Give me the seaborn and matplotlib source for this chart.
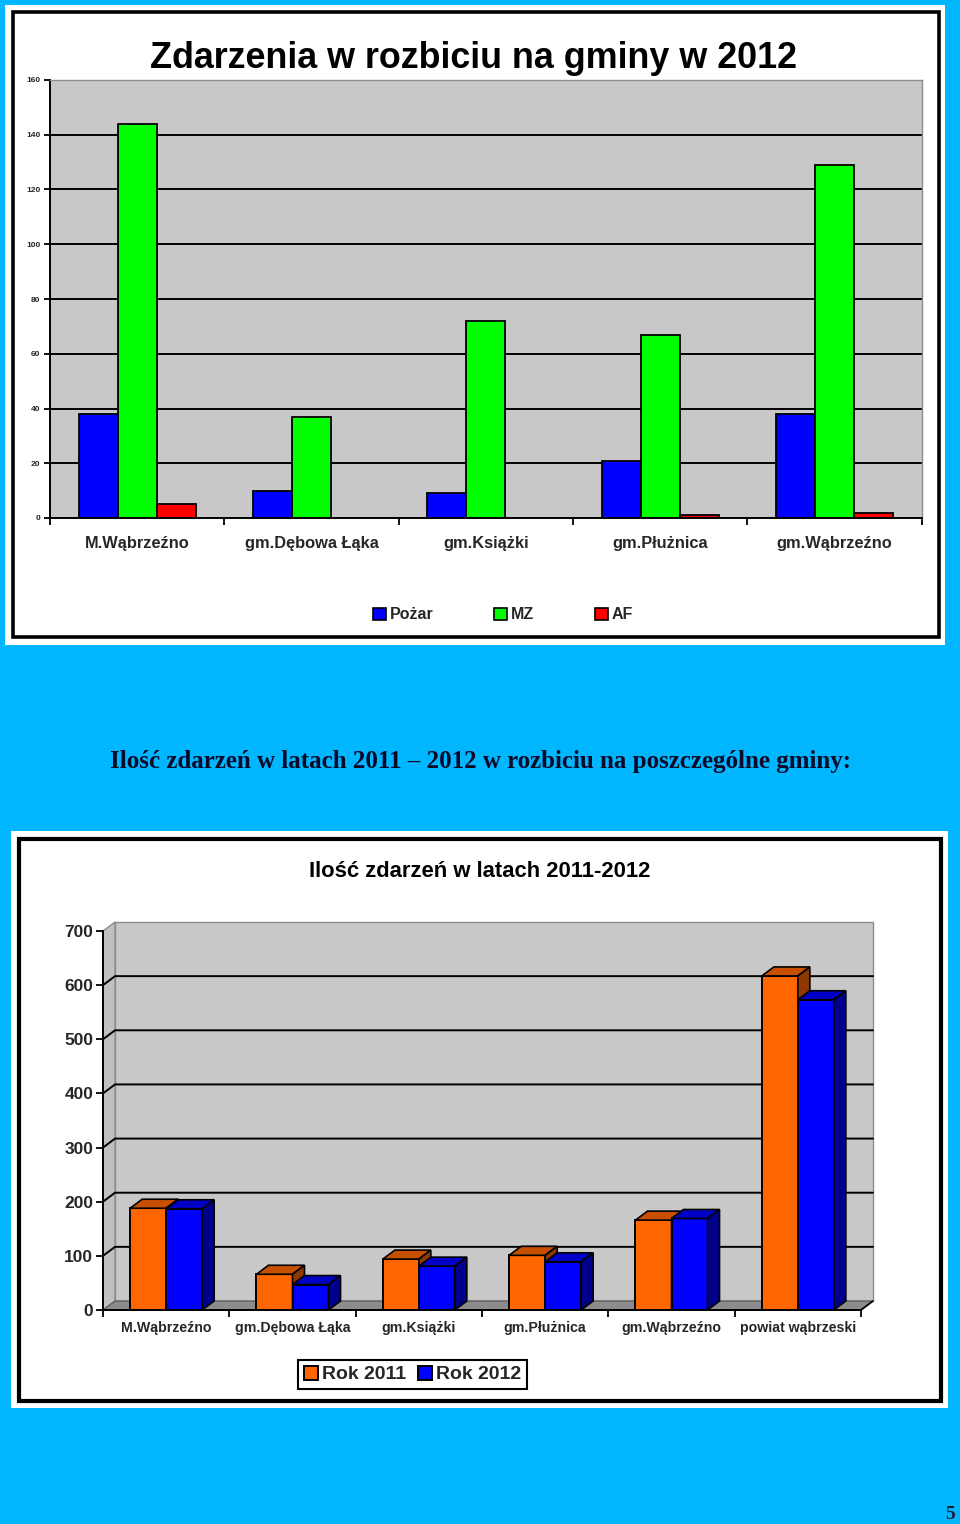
import matplotlib
matplotlib.use("Agg")
import matplotlib.pyplot as plt
import seaborn as sns
import pandas as pd
import numpy as np
from matplotlib.patches import Rectangle, Polygon
from matplotlib.lines import Line2D

# ---------------- data ----------------
gminy_top = ["M.Wąbrzeźno", "gm.Dębowa Łąka", "gm.Książki", "gm.Płużnica", "gm.Wąbrzeźno"]
pozar = [38, 10, 9, 21, 38]
mz = [144, 37, 72, 67, 129]
af = [5, 0, 0, 1, 2]
series_top = ["Pożar", "MZ", "AF"]

gminy_bot = ["M.Wąbrzeźno", "gm.Dębowa Łąka", "gm.Książki", "gm.Płużnica", "gm.Wąbrzeźno", "powiat wąbrzeski"]
rok_2011 = [188, 66, 94, 101, 166, 617]
rok_2012 = [187, 47, 81, 89, 169, 573]
series_bot = ["Rok 2011", "Rok 2012"]

title_top = "Zdarzenia w rozbiciu na gminy w 2012"
title_mid = "Ilość zdarzeń w latach 2011 – 2012 w rozbiciu na poszczególne gminy:"
title_bot = "Ilość zdarzeń w latach 2011-2012"

# ---------------- setup ----------------
W, H = 960, 1524
sns.set_theme(style="white")
plt.rcParams["font.family"] = ["Liberation Sans", "DejaVu Sans"]
plt.rcParams["font.weight"] = "bold"

BG = "#00B6FF"
fig = plt.figure(figsize=(W / 100, H / 100), dpi=100)
fig.patch.set_facecolor(BG)


def fx(x):
    return x / W


def fy(y):
    return 1 - y / H


def frame_rect(x0, y0, x1, y1, **kw):
    fig.add_artist(Rectangle((fx(x0), fy(y1)), fx(x1) - fx(x0), fy(y0) - fy(y1),
                             transform=fig.transFigure, **kw))


# panels
frame_rect(5, 5, 945, 645, facecolor="white", edgecolor="none", zorder=0)
frame_rect(12.5, 12, 938.5, 637.5, facecolor="none", edgecolor="black", linewidth=2.6, zorder=0.5)
frame_rect(11, 831, 948, 1408, facecolor="white", edgecolor="none", zorder=0)
frame_rect(19, 839, 940.5, 1400.5, facecolor="none", edgecolor="black", linewidth=3, zorder=0.5)

# ---------------- top chart ----------------
df1 = pd.DataFrame({
    "gmina": gminy_top * 3,
    "seria": [s for s in series_top for _ in gminy_top],
    "wartosc": pozar + mz + af,
})
ax1 = fig.add_axes([fx(50), fy(518), fx(921.7) - fx(50), (518 - 80) / H])
sns.barplot(data=df1, x="gmina", y="wartosc", hue="seria", order=gminy_top,
            hue_order=series_top, palette=["#0000FF", "#00FF00", "#FF0000"],
            saturation=1, width=0.67, edgecolor="black", linewidth=1.3, ax=ax1, zorder=2)
ax1.set_facecolor("#C8C8C8")
ax1.set_xlim(-0.5, len(gminy_top) - 0.5)
ax1.set_ylim(0, 160)
ax1.set_yticks(np.arange(0, 161, 20))
ax1.set_yticklabels([str(v) for v in range(0, 161, 20)], fontsize=6, fontweight="bold")
ax1.grid(axis="y", color="black", linewidth=1.4)
ax1.set_axisbelow(True)
ax1.set_xticks(np.arange(-0.5, len(gminy_top), 1))
ax1.set_xticklabels([""] * (len(gminy_top) + 1))
ax1.set_xticks(np.arange(len(gminy_top)), minor=True)
ax1.set_xticklabels(gminy_top, minor=True, fontsize=11.8, fontweight="bold")
ax1.tick_params(axis="x", which="major", direction="out", length=5, width=1.3, color="black", bottom=True)
ax1.tick_params(axis="x", which="minor", length=0, pad=13, bottom=True)
ax1.tick_params(axis="y", direction="out", length=4, width=1.3, color="black", pad=3, left=True)
ax1.set_xlabel("")
ax1.set_ylabel("")
for s in ["top", "right"]:
    ax1.spines[s].set_color("#8C8C8C")
    ax1.spines[s].set_linewidth(1.0)
for s in ["left", "bottom"]:
    ax1.spines[s].set_color("black")
    ax1.spines[s].set_linewidth(1.4)

h1, l1 = ax1.get_legend_handles_labels()
if ax1.get_legend() is not None:
    ax1.get_legend().remove()
leg1 = fig.legend(h1, l1, loc="center", bbox_to_anchor=(fx(503), fy(615)), ncol=3,
                  frameon=False, handlelength=0.8, handleheight=0.8,
                  handletextpad=0.25, columnspacing=3.8, prop={"weight": "bold", "size": 11.5})
for hnd in leg1.legend_handles:
    hnd.set_edgecolor("black")
    hnd.set_linewidth(1.2)

fig.text(fx(474), fy(68), title_top, ha="center", va="baseline", fontsize=25.8,
         fontweight="bold", color="black")

# ---------------- middle text ----------------
fig.text(fx(480), fy(768), title_mid, ha="center", va="baseline", fontsize=18,
         fontweight="bold", family=["Liberation Serif", "DejaVu Serif"], color="#0A0A28")

# ---------------- bottom chart (pseudo 3D) ----------------
df2 = pd.DataFrame({
    "gmina": gminy_bot * 2,
    "rok": [s for s in series_bot for _ in gminy_bot],
    "wartosc": rok_2011 + rok_2012,
})
x_left, x_right, y_zero, y_top = 103, 861, 1310, 931
ax2 = fig.add_axes([fx(x_left), fy(y_zero), fx(x_right) - fx(x_left), (y_zero - y_top) / H])
sns.barplot(data=df2, x="gmina", y="wartosc", hue="rok", order=gminy_bot,
            hue_order=series_bot, palette=["#FF6600", "#0000FF"], saturation=1,
            width=0.57, edgecolor="black", linewidth=1.4, ax=ax2, legend=False)
n2 = len(gminy_bot)
ax2.set_xlim(-0.5, n2 - 0.5)
ax2.set_ylim(0, 700)
ax2.set_facecolor("none")
ymax = 700
dx = 12 / (x_right - x_left) * n2
dy = 9 / (y_zero - y_top) * ymax

# walls and floor
ax2.add_patch(Rectangle((-0.5 + dx, dy), n2, ymax, facecolor="#C8C8C8", edgecolor="#8C8C8C",
                        linewidth=1.0, clip_on=False, zorder=0.1))
ax2.add_patch(Polygon([(-0.5, 0), (-0.5 + dx, dy), (-0.5 + dx, ymax + dy), (-0.5, ymax)],
                      closed=True, facecolor="#C0C0C0", edgecolor="#8C8C8C", linewidth=1.0,
                      clip_on=False, zorder=0.15))
ax2.add_patch(Polygon([(-0.5, 0), (n2 - 0.5, 0), (n2 - 0.5 + dx, dy), (-0.5 + dx, dy)],
                      closed=True, facecolor="#8C8C8C", edgecolor="#606060", linewidth=1.0,
                      clip_on=False, zorder=0.2))
for v in range(100, 700, 100):
    ax2.add_line(Line2D([-0.5, -0.5 + dx, n2 - 0.5 + dx], [v, v + dy, v + dy],
                        color="black", linewidth=1.4, clip_on=False, zorder=0.5))
ax2.add_line(Line2D([n2 - 0.5, n2 - 0.5 + dx], [0, dy], color="black", linewidth=1.2,
                    clip_on=False, zorder=0.6))

# 3D faces for every bar
for ci, cont in enumerate(ax2.containers):
    base_z = 2 + ci
    for p in cont.patches:
        p.set_zorder(base_z)
        x0, w, h = p.get_x(), p.get_width(), p.get_height()
        fc = np.array(p.get_facecolor()[:3])
        top = [(x0, h), (x0 + w, h), (x0 + w + dx, h + dy), (x0 + dx, h + dy)]
        side = [(x0 + w, 0), (x0 + w + dx, dy), (x0 + w + dx, h + dy), (x0 + w, h)]
        ax2.add_patch(Polygon(top, closed=True, facecolor=fc * 0.78, edgecolor="black",
                              linewidth=1.2, clip_on=False, zorder=base_z + 0.1))
        ax2.add_patch(Polygon(side, closed=True, facecolor=fc * 0.55, edgecolor="black",
                              linewidth=1.2, clip_on=False, zorder=base_z + 0.1))

ax2.set_yticks(np.arange(0, 701, 100))
ax2.set_yticklabels([str(v) for v in range(0, 701, 100)], fontsize=12.5, fontweight="bold")
ax2.set_xticks(np.arange(-0.5, n2, 1))
ax2.set_xticklabels([""] * (n2 + 1))
ax2.set_xticks(np.arange(n2), minor=True)
ax2.set_xticklabels(gminy_bot, minor=True, fontsize=10.2, fontweight="bold")
ax2.tick_params(axis="x", which="major", direction="out", length=5, width=1.3, color="black", bottom=True)
ax2.tick_params(axis="x", which="minor", length=0, pad=8, bottom=True)
ax2.tick_params(axis="y", direction="out", length=5, width=1.3, color="black", pad=2, left=True)
ax2.set_xlabel("")
ax2.set_ylabel("")
for s in ["top", "right"]:
    ax2.spines[s].set_visible(False)
for s in ["left", "bottom"]:
    ax2.spines[s].set_color("black")
    ax2.spines[s].set_linewidth(1.4)
    ax2.spines[s].set_zorder(5)

leg_handles = [ax2.containers[i].patches[0] for i in range(len(series_bot))]
leg2 = fig.legend(leg_handles, series_bot, loc="center", bbox_to_anchor=(fx(412.5), fy(1374.5)),
                  ncol=2, frameon=True, fancybox=False, edgecolor="black", framealpha=1,
                  handlelength=0.75, handleheight=0.75, handletextpad=0.2, columnspacing=0.6,
                  borderpad=0.3, borderaxespad=0, prop={"weight": "bold", "size": 14})
leg2.get_frame().set_linewidth(1.5)

fig.text(fx(480), fy(877), title_bot, ha="center", va="baseline", fontsize=15.8,
         fontweight="bold", color="black")

# page number
fig.text(fx(950), fy(1519), "5", ha="center", va="baseline", fontsize=14,
         family=["Liberation Serif", "DejaVu Serif"], color="#1E1E3C")

fig.savefig("out.png", dpi=100, facecolor=BG)
